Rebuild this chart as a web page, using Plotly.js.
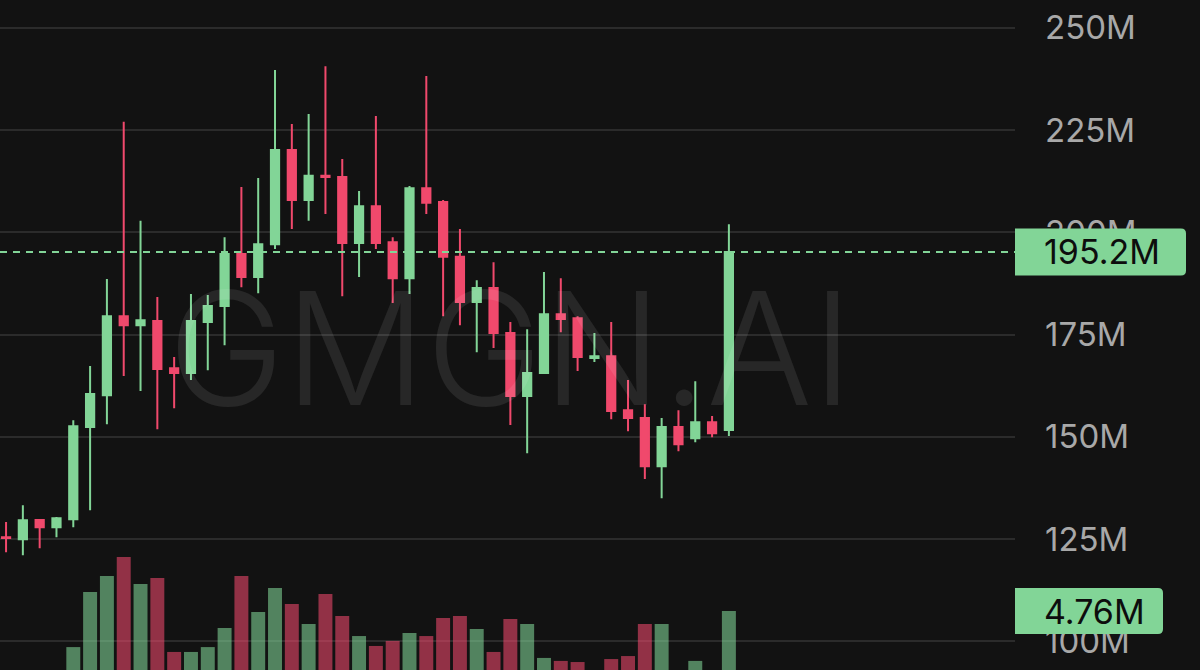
<!DOCTYPE html>
<html>
<head>
<meta charset="utf-8">
<script src="https://cdn.plot.ly/plotly-3.0.1.min.js"></script>
<style>
  html, body { margin: 0; padding: 0; background: #121212; }
  #chart { width: 1200px; height: 670px; }
</style>
</head>
<body>
<div id="chart"></div>
<script>
// OHLC prices in millions, one candle per bar
const open  = [125.5,125.0,129.7,127.9,129.9,152.4,160.2,179.5,177.3,178.3,166.8,165.6,178.1,182.0,194.7,189.1,197.1,220.1,207.9,213.8,213.5,197.4,206.4,197.6,188.8,210.8,207.4,194.0,183.0,186.4,175.4,160.0,165.6,180.0,179.0,169.3,169.7,156.5,154.6,142.8,152.4,149.7,153.6,151.7];
const high  = [129.2,133.3,129.7,130.4,154.1,167.3,188.6,227.0,202.8,184.2,169.5,184.9,184.7,198.8,211.1,213.3,239.7,226.5,228.9,240.6,217.9,210.1,228.4,198.8,211.3,238.2,207.9,200.8,188.3,192.7,178.1,176.3,190.3,188.8,179.5,175.4,178.1,163.9,158.0,154.6,156.5,163.6,155.1,202.0];
const low   = [121.8,121.1,122.8,125.5,127.9,132.1,153.1,164.9,161.2,151.9,157.0,163.9,166.3,172.4,186.6,185.1,195.9,200.8,202.8,204.5,184.4,189.1,195.9,182.7,184.9,204.5,179.5,177.3,170.7,171.7,152.9,146.0,165.6,175.6,166.1,168.3,154.3,151.4,139.7,135.0,146.5,148.7,149.9,150.2];
const close = [125.3,129.6,127.9,130.1,152.6,160.5,179.5,177.3,178.5,166.6,165.6,178.3,182.0,194.7,189.1,197.1,220.1,207.9,213.8,213.5,197.4,206.4,197.4,188.8,210.8,207.2,194.0,183.0,186.4,175.4,160.0,165.6,180.0,178.8,169.5,169.7,156.3,154.6,142.8,152.4,148.2,153.6,150.9,195.2];
// traded volume per bar, millions
const volume = [1.2,1.5,1.1,1.3,2.83,5.78,6.63,7.65,6.20,6.52,2.57,2.57,2.83,3.85,6.63,4.71,5.99,5.13,4.06,5.67,4.49,3.42,2.89,3.16,3.58,3.42,4.39,4.49,3.80,2.57,4.33,4.06,2.25,2.09,2.03,1.4,2.19,2.35,4.06,4.06,1.5,2.09,1.3,4.76];
// price axis ticks
const priceTicks = [100,125,150,175,200,225,250];
const watermark = 'GMGN.AI';

const UP = '#82d597';
const DOWN = '#f0496c';
const BG = '#121212';
const FONT = 'Inter, "Noto Sans", sans-serif';

const W = 1200, H = 670;
const margin = {l: 0, r: 185, t: 0, b: 0};
const plotW = W - margin.l - margin.r;
const plotH = H - margin.t - margin.b;

const priceRange = [93.03, 256.78];
// volume axis: the zero baseline sits a little below the visible bottom edge
const volRange = [1.6045, 37.438];

const idx = open.map((_, i) => i);
const last = close.length - 1;
const lastClose = close[last];
const lastVol = volume[last];
const lastUp = close[last] >= open[last];

const toPaperY = (v, r) => (v - r[0]) / (r[1] - r[0]);

// rounded tag behind an axis value, expressed in paper coordinates
function tag(centerPaperY, widthPx, heightPx, color) {
  const x0 = 1, x1 = 1 + widthPx / plotW;
  const hy = heightPx / 2 / plotH;
  const y0 = centerPaperY - hy, y1 = centerPaperY + hy;
  const rx = 5 / plotW, ry = 5 / plotH;
  const path = `M${x0},${y0} L${x1 - rx},${y0} Q${x1},${y0} ${x1},${y0 + ry} ` +
               `L${x1},${y1 - ry} Q${x1},${y1} ${x1 - rx},${y1} L${x0},${y1} Z`;
  return {type: 'path', xref: 'paper', yref: 'paper', path: path,
          fillcolor: color, line: {width: 0}, layer: 'above'};
}

const volumeTrace = {
  type: 'bar',
  x: idx,
  y: volume,
  yaxis: 'y2',
  marker: {
    color: idx.map(i => close[i] >= open[i] ? UP : DOWN),
    opacity: 0.58,
    line: {width: 0}
  },
  hoverinfo: 'skip'
};

const candleTrace = {
  type: 'candlestick',
  x: idx,
  open: open, high: high, low: low, close: close,
  increasing: {line: {color: UP, width: 2}, fillcolor: UP},
  decreasing: {line: {color: DOWN, width: 2}, fillcolor: DOWN},
  whiskerwidth: 0,
  hoverinfo: 'skip'
};

const layout = {
  width: W, height: H,
  margin: margin,
  paper_bgcolor: BG,
  plot_bgcolor: BG,
  showlegend: false,
  bargap: 0.17,
  xaxis: {
    range: [-0.36, 60.02],
    visible: false,
    rangeslider: {visible: false},
    fixedrange: true
  },
  yaxis: {
    range: priceRange,
    side: 'right',
    tickvals: priceTicks,
    ticktext: priceTicks.map(v => v + 'M'),
    ticks: '',
    ticklabelstandoff: 29,
    tickfont: {family: FONT, size: 33, color: '#a8a8a8'},
    showgrid: true,
    gridcolor: '#2b2b2b',
    gridwidth: 2,
    zeroline: false,
    showline: false,
    fixedrange: true
  },
  yaxis2: {
    range: volRange,
    overlaying: 'y',
    visible: false,
    showgrid: false,
    fixedrange: true
  },
  shapes: [
    {type: 'line', xref: 'paper', x0: 0, x1: 1, yref: 'y', y0: lastClose, y1: lastClose,
     line: {color: lastUp ? UP : DOWN, width: 2, dash: '7px,6px'}, layer: 'above'},
    tag(toPaperY(lastClose, priceRange), 171, 47, lastUp ? UP : DOWN),
    tag(toPaperY(lastVol, volRange), 148, 46, lastUp ? UP : DOWN)
  ],
  annotations: [
    {text: watermark, xref: 'paper', yref: 'paper', x: 510 / plotW, y: 1 - 348 / plotH,
     xanchor: 'center', yanchor: 'middle', showarrow: false,
     font: {family: FONT, size: 157, color: 'rgba(255,255,255,0.09)', weight: 300}},
    {text: lastClose.toFixed(1) + 'M', xref: 'paper', yref: 'y',
     x: 1 + 29 / plotW, y: lastClose, xanchor: 'left', yanchor: 'middle',
     showarrow: false, borderpad: 0, borderwidth: 0,
     font: {family: FONT, size: 34, color: '#0d0d0d'}},
    {text: lastVol.toFixed(2) + 'M', xref: 'paper', yref: 'y2',
     x: 1 + 29 / plotW, y: lastVol, xanchor: 'left', yanchor: 'middle',
     showarrow: false, borderpad: 0, borderwidth: 0,
     font: {family: FONT, size: 34, color: '#0d0d0d'}}
  ]
};

Plotly.newPlot('chart', [volumeTrace, candleTrace], layout, {staticPlot: true, displayModeBar: false});
</script>
</body>
</html>
